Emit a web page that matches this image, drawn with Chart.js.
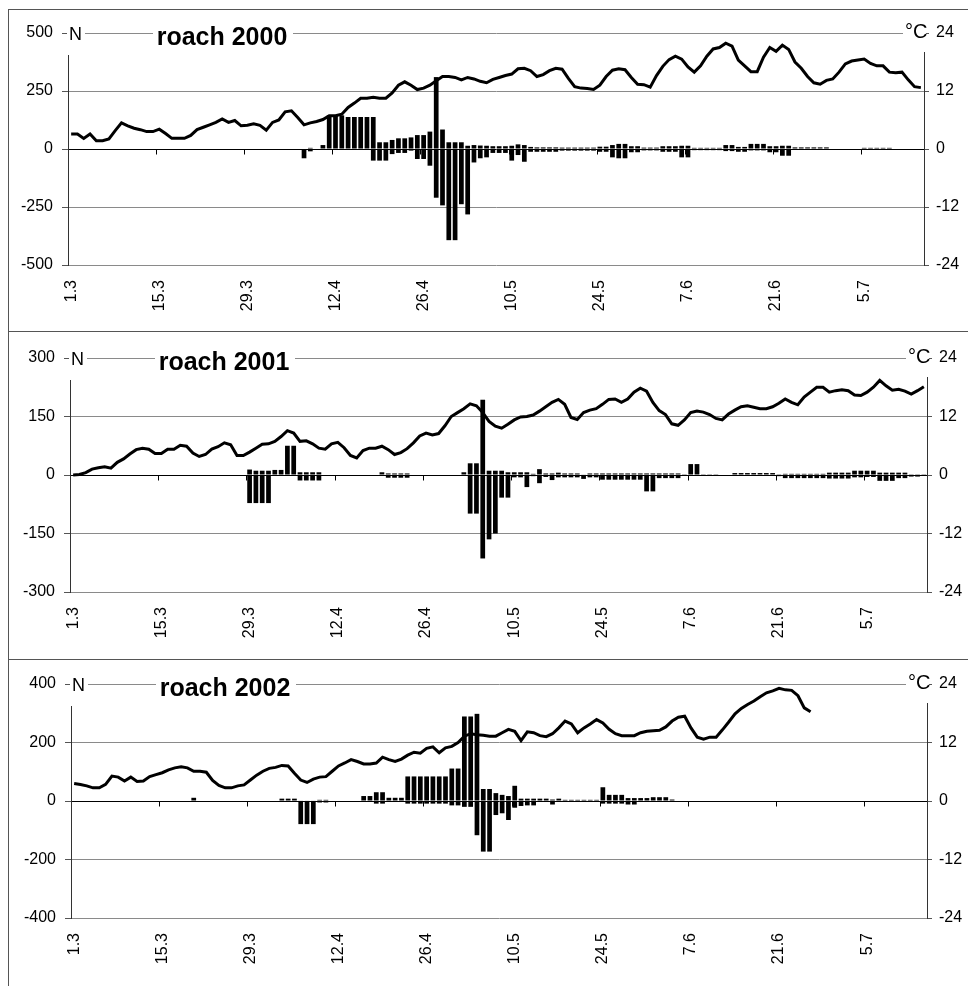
<!DOCTYPE html>
<html>
<head>
<meta charset="utf-8">
<script src="https://cdn.jsdelivr.net/npm/chart.js@4.4.1/dist/chart.umd.min.js"></script>
<style>
  body { margin: 0; background: #fff; width: 968px; height: 986px; overflow: hidden; }
  .frame { position: absolute; left: 8px; width: 970px; border-top: 1px solid #555; border-left: 1px solid #555; }
  canvas { position: absolute; left: 0; }
</style>
</head>
<body>
<div class="frame" style="top:9px;height:322px"></div>
<div class="frame" style="top:331px;height:328px"></div>
<div class="frame" style="top:659px;height:327px"></div>
<canvas id="c2000" width="968" height="331" style="top:0px"></canvas>
<canvas id="c2001" width="968" height="328" style="top:331px"></canvas>
<canvas id="c2002" width="968" height="327" style="top:659px"></canvas>
<script>
// daily categories 1.3 .. 14.7
const months = [[3, 31], [4, 30], [5, 31], [6, 30], [7, 14]];
const days = [];
months.forEach(([m, n]) => { for (let d = 1; d <= n; d++) days.push(d + '.' + m); });

const _ = null;

// water temperature, °C
const temp2000 = [
  3.1, 3.1, 2.2, 3.1, 1.7, 1.7, 2.1, 3.8, 5.4, 4.8,
  4.3, 4.0, 3.6, 3.6, 4.1, 3.2, 2.2, 2.2, 2.2, 2.8,
  4.0, 4.5, 5.0, 5.5, 6.2, 5.5, 5.9, 4.8, 4.9, 5.2,
  4.9, 3.9, 5.5, 6.0, 7.7, 7.9, 6.5, 5.0, 5.4, 5.7,
  6.1, 6.9, 6.9, 7.2, 8.6, 9.5, 10.5, 10.5, 10.7, 10.5,
  10.5, 11.6, 13.2, 13.9, 13.2, 12.3, 12.6, 13.2, 14.1, 15.0,
  15.0, 14.8, 14.3, 14.8, 14.5, 14.0, 13.7, 14.4, 14.8, 15.2,
  15.5, 16.6, 16.7, 16.2, 15.0, 15.4, 16.2, 16.7, 16.5, 14.6,
  12.9, 12.6, 12.5, 12.3, 13.2, 15.0, 16.3, 16.6, 16.4, 14.8,
  13.4, 13.3, 12.8, 15.2, 17.1, 18.5, 19.2, 18.6, 17.0, 15.9,
  17.2, 19.2, 20.7, 21.0, 21.9, 21.3, 18.4, 17.2, 16.0, 16.0,
  19.0, 21.0, 20.2, 21.5, 20.6, 18.0, 16.7, 15.0, 13.7, 13.4,
  14.2, 14.5, 15.9, 17.6, 18.2, 18.4, 18.6, 17.7, 17.2, 17.2,
  15.9, 15.8, 15.9, 14.3, 12.9, 12.7
];
const temp2001 = [
  0.0, 0.1, 0.5, 1.2, 1.5, 1.7, 1.4, 2.6, 3.3, 4.3,
  5.2, 5.5, 5.3, 4.4, 4.4, 5.3, 5.3, 6.1, 5.9, 4.5,
  3.8, 4.2, 5.3, 5.8, 6.6, 6.2, 4.0, 4.0, 4.7, 5.5,
  6.3, 6.4, 6.9, 7.9, 9.1, 8.6, 6.9, 7.0, 6.4, 5.5,
  5.3, 6.4, 6.7, 5.6, 4.0, 3.5, 5.0, 5.5, 5.5, 5.9,
  5.2, 4.2, 4.6, 5.4, 6.6, 8.0, 8.6, 8.2, 8.5, 10.1,
  12.0, 12.8, 13.6, 14.6, 14.2, 12.8, 11.0, 10.0, 9.6, 10.4,
  11.3, 11.9, 12.0, 12.3, 13.1, 14.0, 14.9, 15.5, 14.5, 11.8,
  11.4, 12.8, 13.3, 13.6, 14.5, 15.5, 15.6, 14.9, 15.6, 17.0,
  17.8, 17.2, 14.9, 13.2, 12.4, 10.5, 10.2, 11.3, 12.8, 13.1,
  12.9, 12.4, 11.6, 11.3, 12.5, 13.3, 14.0, 14.2, 13.9, 13.6,
  13.6, 14.0, 14.7, 15.6, 14.9, 14.4, 16.0, 17.0, 18.0, 18.0,
  17.0, 17.3, 17.5, 17.3, 16.4, 16.3, 17.0, 18.0, 19.4, 18.3,
  17.4, 17.6, 17.2, 16.6, 17.3, 18.1
];
const temp2002 = [
  3.6, 3.4, 3.1, 2.7, 2.7, 3.4, 5.1, 4.9, 4.1, 4.9,
  4.0, 4.1, 5.0, 5.4, 5.8, 6.4, 6.8, 7.0, 6.8, 6.1,
  6.1, 5.9, 4.2, 3.2, 2.7, 2.7, 3.1, 3.3, 4.3, 5.3,
  6.1, 6.7, 6.9, 7.3, 7.2, 5.7, 4.3, 3.8, 4.5, 4.9,
  5.0, 6.1, 7.2, 7.8, 8.5, 8.1, 7.6, 7.6, 7.8, 9.0,
  8.5, 8.1, 8.6, 9.4, 10.0, 9.8, 10.8, 11.1, 9.9, 10.9,
  11.2, 12.0, 13.3, 13.8, 13.6, 13.5, 13.3, 13.3, 14.0, 14.7,
  14.3, 12.4, 14.2, 14.0, 13.4, 13.2, 13.8, 15.0, 16.4, 15.8,
  14.0, 15.0, 15.8, 16.7, 16.0, 14.7, 13.8, 13.4, 13.4, 13.4,
  14.0, 14.3, 14.4, 14.5, 15.2, 16.4, 17.2, 17.4, 15.0, 13.1,
  12.7, 13.1, 13.1, 14.6, 16.2, 17.9, 19.0, 19.8, 20.5, 21.4,
  22.2, 22.6, 23.1, 22.8, 22.7, 21.6, 19.1, 18.3, _, _,
  _, _, _, _, _, _, _, _, _, _,
  _, _, _, _, _, _
];

// fish counts, N: upstream (+) and downstream (-) per day
const up2000 = [
  _, _, _, _, _, _, _, _, _, _,
  _, _, _, _, _, _, _, _, _, _,
  _, _, _, _, _, _, _, _, _, _,
  _, _, _, _, _, _, _, _, 5, _,
  17, 145, 145, 145, 138, 138, 138, 138, 138, 29,
  29, 39, 46, 46, 50, 60, 60, 75, 310, 84,
  29, 29, 29, 14, 17, 15, 14, 12, 12, 12,
  14, 20, 17, 9, 7, 7, 7, 7, 6, 6,
  6, 6, 6, 6, 10, 10, 17, 22, 22, 12,
  12, 6, 6, 6, 12, 12, 12, 14, 14, 5,
  5, 5, 5, 5, 17, 17, 9, 9, 22, 22,
  22, 12, 12, 14, 14, 7, 7, 7, 7, 7,
  7, _, _, _, _, _, 5, 5, 5, 5,
  5, _, _, _, _, _
];
const down2000 = [
  _, _, _, _, _, _, _, _, _, _,
  _, _, _, _, _, _, _, _, _, _,
  _, _, _, _, _, _, _, _, _, _,
  _, _, _, _, _, _, _, -40, -10, _,
  -3, _, _, _, _, _, _, _, -50, -50,
  -50, -22, -17, -17, -7, -43, -43, -72, -210, -243,
  -393, -393, -238, -282, -58, -40, -36, -17, -17, -17,
  -50, -26, -55, -12, -12, -12, -12, -12, -7, -7,
  -7, -7, -7, -7, -12, -12, -36, -40, -40, -14,
  -14, -6, -6, -6, -12, -12, -12, -36, -36, -5,
  -5, -5, -5, -5, -9, -9, -12, -12, -6, -6,
  -6, -14, -14, -29, -29, -4, -4, -4, -4, -4,
  -4, _, _, _, _, _, -3, -3, -3, -3,
  -3, _, _, _, _, _
];
const up2001 = [
  _, _, _, _, _, _, _, _, _, _,
  _, _, _, _, _, _, _, _, _, _,
  _, _, _, _, _, _, _, _, 14, 11,
  11, 11, 13, 13, 75, 75, 7, 7, 7, 7,
  _, _, _, _, _, _, _, _, _, 7,
  4, 4, 4, 4, _, _, _, _, _, _,
  _, _, 7, 30, 30, 193, 11, 11, 11, 7,
  7, 7, 7, 3, 15, 4, 4, 6, 4, 4,
  4, 1, 4, 4, 4, 4, 4, 4, 4, 4,
  4, 4, 4, 4, 4, 4, 4, 2, 28, 28,
  2, 2, 2, _, _, 5, 5, 5, 5, 5,
  5, 5, 2, 3, 3, 3, 3, 3, 3, 3,
  6, 6, 6, 6, 11, 11, 11, 11, 6, 6,
  6, 6, 6, 2, 2, 2
];
const down2001 = [
  _, _, _, _, _, _, _, _, _, _,
  _, _, _, _, _, _, _, _, _, _,
  _, _, _, _, _, _, _, _, -72, -72,
  -72, -72, -2, -2, _, _, -14, -14, -14, -14,
  _, _, _, _, _, _, _, _, _, -2,
  -7, -7, -7, -7, _, _, _, _, _, _,
  _, _, -2, -99, -99, -214, -165, -150, -58, -58,
  -6, -6, -31, -3, -21, -5, -13, -6, -6, -6,
  -6, -10, -6, -6, -12, -12, -12, -12, -12, -12,
  -12, -42, -42, -8, -8, -8, -8, -2, _, _,
  -2, -2, -2, _, _, _, _, _, _, _,
  _, _, -3, -8, -8, -8, -8, -8, -8, -8,
  -9, -9, -9, -9, -6, -6, -5, -5, -15, -15,
  -15, -8, -8, -4, -4, -2
];
const up2002 = [
  _, _, _, _, _, _, _, _, _, _,
  _, _, _, _, _, _, _, _, _, 11,
  _, _, _, _, _, _, _, _, _, _,
  _, _, _, 8, 8, 8, 2, 2, 2, 4,
  4, _, _, _, _, _, 17, 17, 30, 30,
  11, 11, 11, 84, 84, 84, 84, 84, 84, 84,
  111, 111, 289, 289, 298, 41, 41, 27, 21, 17,
  52, 8, 8, 8, 8, 8, 5, 8, 4, 4,
  4, 4, 4, 4, 47, 21, 21, 21, 10, 10,
  10, 10, 13, 13, 13, 5, _, _, _, _,
  _, _, _, _, _, _, _, _, _, _,
  _, _, _, _, _, _, _, _, _, _,
  _, _, _, _, _, _, _, _, _, _,
  _, _, _, _, _, _
];
const down2002 = [
  _, _, _, _, _, _, _, _, _, _,
  _, _, _, _, _, _, _, _, _, _,
  _, _, _, _, _, _, _, _, _, _,
  _, _, _, -3, -3, -3, -79, -79, -79, -5,
  -5, _, _, _, _, _, -3, -3, -9, -9,
  -3, -3, -3, -9, -9, -9, -9, -9, -9, -9,
  -15, -15, -20, -20, -117, -173, -173, -48, -42, -65,
  -23, -17, -15, -15, -3, -3, -12, -3, -3, -3,
  -3, -3, -3, -3, -9, -9, -9, -9, -12, -12,
  -3, -3, _, _, _, _, _, _, _, _,
  _, _, _, _, _, _, _, _, _, _,
  _, _, _, _, _, _, _, _, _, _,
  _, _, _, _, _, _, _, _, _, _,
  _, _, _, _, _, _
];

const FONT = 'Liberation Sans, Arial, sans-serif';

// N label, title and °C label sit on the top gridline with a white ground
const headerPlugin = {
  id: 'header',
  afterDraw(chart, args, opts) {
    const { ctx, chartArea: a } = chart;
    ctx.save();
    ctx.fillStyle = '#fff';
    ctx.fillRect(a.left - 1, a.top - 10, 18, 32);
    ctx.fillRect(a.left + 85, a.top - 12, 140, 32);
    ctx.fillRect(a.right - 21, a.top - 12, 23, 31);
    ctx.fillStyle = '#000';
    ctx.textBaseline = 'middle';
    ctx.textAlign = 'left';
    ctx.font = '18px ' + FONT;
    ctx.fillText('N', a.left + 1, a.top + 2);
    ctx.font = '20px ' + FONT;
    ctx.fillText('°C', a.right - 19, a.top - 1);
    ctx.textAlign = 'center';
    ctx.font = 'bold 25px ' + FONT;
    ctx.fillText(opts.title, a.left + 154, a.top + 5);
    ctx.restore();
  }
};

// small ticks on the zero line every two weeks
const zeroTicks = {
  id: 'zeroTicks',
  afterDatasetsDraw(chart) {
    const { ctx, scales: { x, y } } = chart;
    const y0 = Math.round(y.getPixelForValue(0)) + 0.5;
    ctx.save();
    ctx.strokeStyle = '#000';
    ctx.lineWidth = 1;
    ctx.beginPath();
    for (let k = 14; k < days.length; k += 14) {
      const px = Math.round((x.getPixelForValue(k - 1) + x.getPixelForValue(k)) / 2) + 0.5;
      ctx.moveTo(px, y0);
      ctx.lineTo(px, y0 + 5);
    }
    ctx.stroke();
    ctx.restore();
  }
};

function makeChart(id, title, up, down, temp, nMax, box) {
  const canvas = document.getElementById(id);
  return new Chart(canvas, {
    type: 'bar',
    data: {
      labels: days,
      datasets: [
        { type: 'line', data: temp, yAxisID: 'y1', borderColor: '#000', borderWidth: 3,
          pointRadius: 0, tension: 0, spanGaps: false, order: 0 },
        { data: up, yAxisID: 'y', backgroundColor: '#000', stack: 'n',
          barPercentage: 0.75, categoryPercentage: 1, order: 1 },
        { data: down, yAxisID: 'y', backgroundColor: '#000', stack: 'n',
          barPercentage: 0.75, categoryPercentage: 1, order: 1 }
      ]
    },
    options: {
      responsive: false,
      animation: false,
      devicePixelRatio: 1,
      layout: { padding: { top: box.top, left: 0, right: 0, bottom: 0 } },
      plugins: { legend: { display: false }, tooltip: { enabled: false }, header: { title } },
      scales: {
        x: {
          stacked: true,
          grid: { display: false, drawTicks: false },
          border: { display: false },
          ticks: {
            autoSkip: false, maxRotation: 90, minRotation: 90, padding: 15,
            color: '#000', font: { family: FONT, size: 16 },
            callback: (v, i) => (i % 14 === 0 ? days[i] : '')
          },
          afterFit: s => { s.height = box.h - box.bottom; }
        },
        y: {
          stacked: true, min: -nMax, max: nMax,
          ticks: { stepSize: nMax / 2, padding: 9, color: '#000', font: { family: FONT, size: 16 } },
          grid: {
            color: c => (c.tick && c.tick.value === 0 ? '#000' : '#8a8a8a'),
            lineWidth: 1, tickLength: 6, tickColor: '#555'
          },
          border: { display: true, color: '#333', width: 1 },
          afterFit: s => { s.width = box.left; }
        },
        y1: {
          position: 'right', min: -24, max: 24,
          ticks: { stepSize: 12, padding: 7, color: '#000', font: { family: FONT, size: 16 } },
          grid: { drawOnChartArea: false, tickLength: 5, color: '#555' },
          border: { display: true, color: '#333', width: 1 },
          afterFit: s => { s.width = 968 - box.right; }
        }
      }
    },
    plugins: [headerPlugin, zeroTicks]
  });
}

makeChart('c2000', 'roach 2000', up2000, down2000, temp2000, 500,
  { top: 33, bottom: 265, left: 68, right: 924, h: 331 });
makeChart('c2001', 'roach 2001', up2001, down2001, temp2001, 300,
  { top: 27, bottom: 261, left: 70, right: 927, h: 328 });
makeChart('c2002', 'roach 2002', up2002, down2002, temp2002, 400,
  { top: 25, bottom: 259, left: 71, right: 927, h: 327 });
</script>
</body>
</html>
